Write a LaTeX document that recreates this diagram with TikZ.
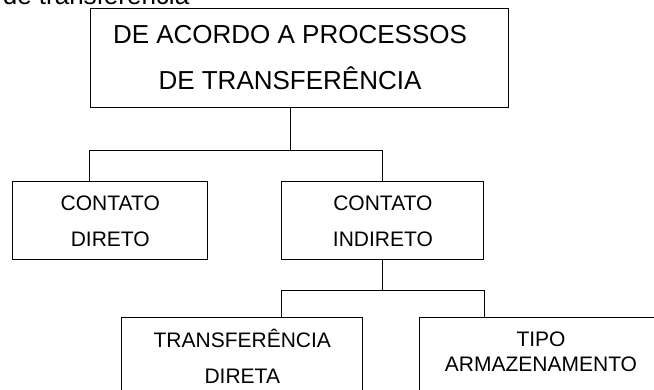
\documentclass[tikz,border=0pt]{standalone}
\usepackage{fontspec}
\setmainfont{Liberation Sans}
\usepackage{tikz}
\usetikzlibrary{positioning,calc}

\begin{document}
\begin{tikzpicture}[x=1pt,y=-1pt,line width=1pt,
  kasten/.style={draw,rectangle,align=center,inner sep=0pt,font=\fontsize{21}{36}\selectfont,text height=51pt,text depth=0pt},
  kopf/.style={kasten,font=\fontsize{26}{46}\selectfont,text height=64.6pt}]
%Rahmen wie im Original (654x389)
\useasboundingbox (0,0) rectangle (654,389);
\node[anchor=base west,font=\fontsize{26}{30}\selectfont] (titel) at (-1,4) {de transferência};
%Kästen
\node[kopf,minimum width=418pt,minimum height=99pt] (topo) at (299,57.5)
  {DE ACORDO A PROCESSOS\hspace*{18pt}\\DE TRANSFERÊNCIA\hspace*{18pt}};
\node[kasten,minimum width=195pt,minimum height=78pt] (direto) at (110.3,220.8) {CONTATO\\DIRETO};
\node[kasten,minimum width=202pt,minimum height=78pt] (indireto) at (382.9,220.8) {CONTATO\\INDIRETO};
\node[kasten,minimum width=241pt,minimum height=82pt] (transf) at (242.3,358) {TRANSFERÊNCIA\\DIRETA};
\node[kasten,minimum width=244pt,minimum height=114pt,font=\fontsize{21}{25}\selectfont,text height=40pt,text depth=45pt] (tipo) at (541,374.2) {TIPO\\ARMAZENAMENTO};
%Verbindungen
\coordinate (schiene1) at (290,150);
\coordinate (schiene2) at (382,290);
\draw (topo.south -| schiene1) -- (schiene1);
\draw (topo.south west |- direto.north) -- (topo.south west |- schiene1) -- (indireto.north |- schiene1) -- (indireto.north);
\draw (indireto.south) -- (indireto.south |- schiene2);
\draw (indireto.south west |- transf.north) -- (indireto.south west |- schiene2) -- (indireto.south east |- schiene2) -- (indireto.south east |- tipo.north);
\end{tikzpicture}
\end{document}
